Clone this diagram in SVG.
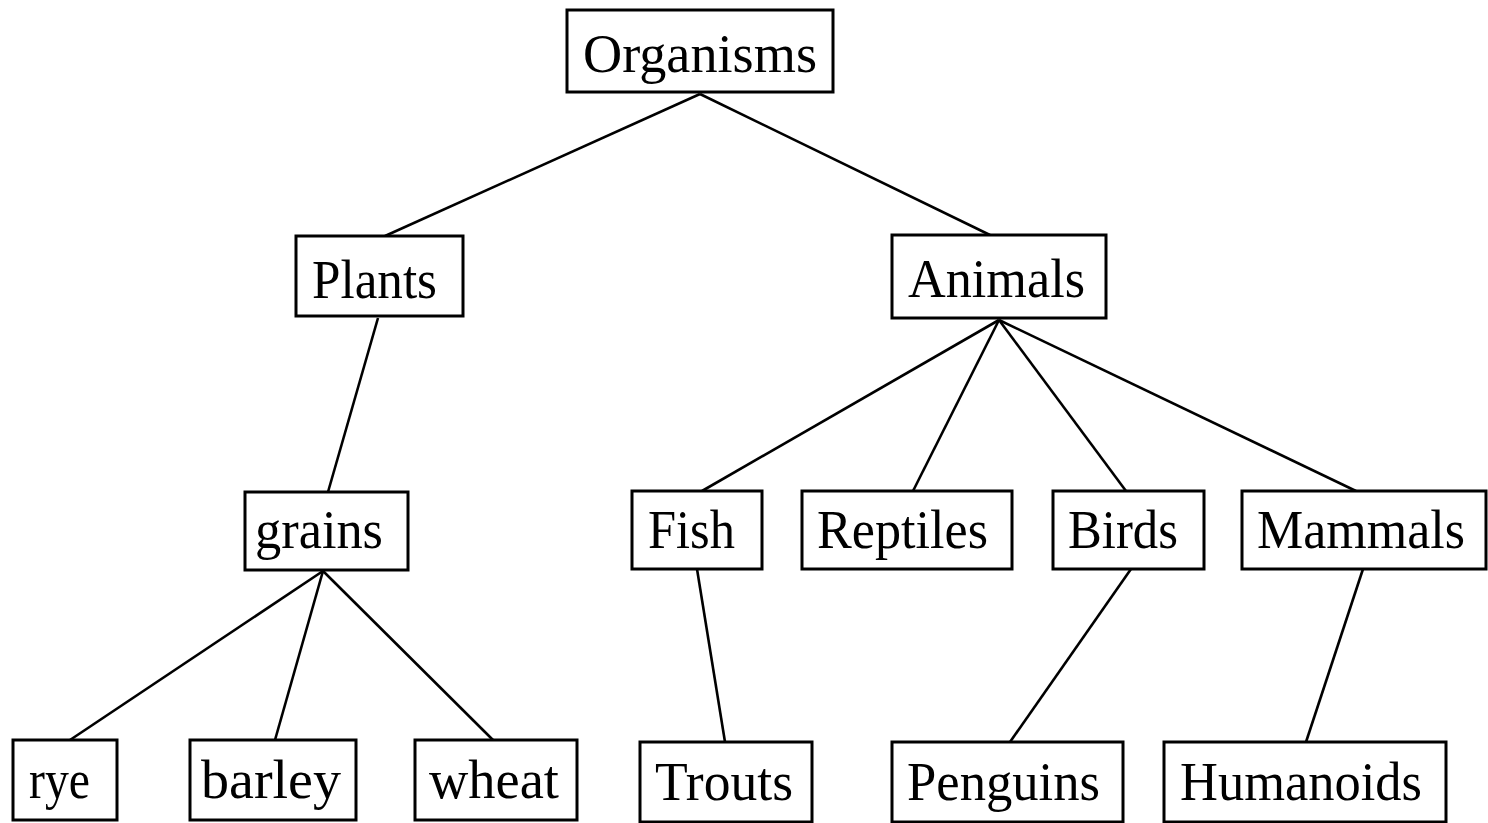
<svg xmlns="http://www.w3.org/2000/svg" width="1488" height="823" viewBox="0 0 1488 823">
<style>
rect.box{fill:#fff;stroke:#000;stroke-width:3}
text{font-family:"Liberation Serif","DejaVu Serif",serif;font-size:54px;fill:#000}
#connectors line{stroke:#000;stroke-width:2.6}
</style>
<rect width="1488" height="823" fill="#fff"/>
<g id="connectors">
<line x1="700" y1="94" x2="385" y2="236"/>
<line x1="700" y1="94" x2="990" y2="235"/>
<line x1="378" y1="318" x2="328" y2="492"/>
<line x1="999" y1="320" x2="702" y2="491"/>
<line x1="999" y1="320" x2="913" y2="491"/>
<line x1="999" y1="320" x2="1126" y2="491"/>
<line x1="999" y1="320" x2="1356" y2="491"/>
<line x1="323" y1="571" x2="70" y2="740"/>
<line x1="323" y1="571" x2="275" y2="740"/>
<line x1="323" y1="571" x2="493" y2="740"/>
<line x1="697" y1="569" x2="725" y2="742"/>
<line x1="1131" y1="569" x2="1010" y2="742"/>
<line x1="1363" y1="569" x2="1306" y2="742"/>
</g>
<g id="organisms"><rect class="box" x="567" y="10" width="266" height="82"/><text x="583" y="72" textLength="234" lengthAdjust="spacingAndGlyphs">Organisms</text></g>
<g id="plants"><rect class="box" x="296" y="236" width="167" height="80"/><text x="312" y="298" textLength="125" lengthAdjust="spacingAndGlyphs">Plants</text></g>
<g id="animals"><rect class="box" x="892" y="235" width="214" height="83"/><text x="908" y="297" textLength="177" lengthAdjust="spacingAndGlyphs">Animals</text></g>
<g id="grains"><rect class="box" x="245" y="492" width="163" height="78"/><text x="255" y="548" textLength="128" lengthAdjust="spacingAndGlyphs">grains</text></g>
<g id="fish"><rect class="box" x="632" y="491" width="130" height="78"/><text x="648" y="548" textLength="87" lengthAdjust="spacingAndGlyphs">Fish</text></g>
<g id="reptiles"><rect class="box" x="802" y="491" width="210" height="78"/><text x="817" y="548" textLength="171" lengthAdjust="spacingAndGlyphs">Reptiles</text></g>
<g id="birds"><rect class="box" x="1053" y="491" width="151" height="78"/><text x="1068" y="548" textLength="110" lengthAdjust="spacingAndGlyphs">Birds</text></g>
<g id="mammals"><rect class="box" x="1242" y="491" width="244" height="78"/><text x="1257" y="548" textLength="208" lengthAdjust="spacingAndGlyphs">Mammals</text></g>
<g id="rye"><rect class="box" x="13" y="740" width="104" height="80"/><text x="29" y="798" textLength="61" lengthAdjust="spacingAndGlyphs">rye</text></g>
<g id="barley"><rect class="box" x="190" y="740" width="166" height="80"/><text x="201" y="798" textLength="140" lengthAdjust="spacingAndGlyphs">barley</text></g>
<g id="wheat"><rect class="box" x="415" y="740" width="162" height="80"/><text x="429" y="798" textLength="130" lengthAdjust="spacingAndGlyphs">wheat</text></g>
<g id="trouts"><rect class="box" x="640" y="742" width="172" height="80"/><text x="655" y="800" textLength="138" lengthAdjust="spacingAndGlyphs">Trouts</text></g>
<g id="penguins"><rect class="box" x="892" y="742" width="231" height="80"/><text x="907" y="800" textLength="193" lengthAdjust="spacingAndGlyphs">Penguins</text></g>
<g id="humanoids"><rect class="box" x="1164" y="742" width="282" height="80"/><text x="1180" y="800" textLength="242" lengthAdjust="spacingAndGlyphs">Humanoids</text></g>
</svg>
